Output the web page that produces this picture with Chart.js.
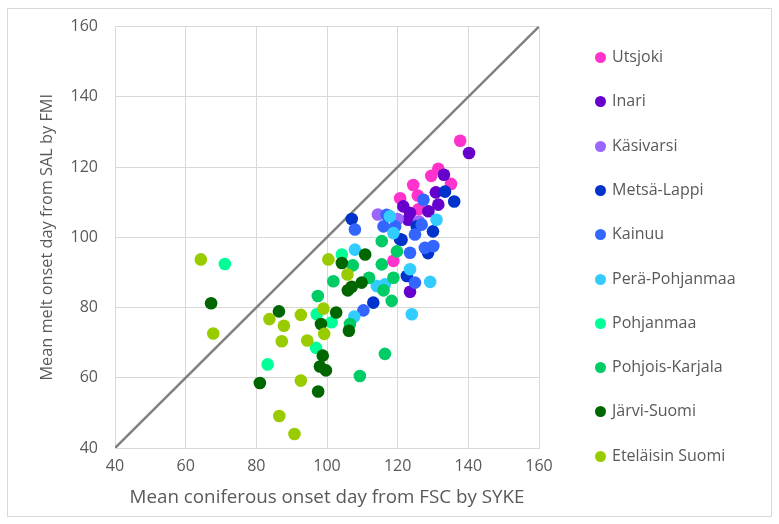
<!DOCTYPE html>
<html>
<head>
<meta charset="utf-8">
<script src="https://cdn.jsdelivr.net/npm/chart.js@4/dist/chart.umd.min.js"></script>
<style>
  body{margin:0;background:#fff;font-family:"Open Sans",sans-serif;}
  #wrap{position:relative;width:779px;height:524px;}
  #frame{position:absolute;left:7px;top:8px;width:763px;height:507px;border:1px solid #d9d9d9;}
  #myChart{position:absolute;left:0;top:0;}
  .leg{position:absolute;left:595px;height:20px;line-height:20px;font-size:16px;color:#595959;white-space:nowrap;}
  .leg span{display:inline-block;width:11px;height:11px;border-radius:50%;margin-right:6px;vertical-align:-1px;}
</style>
</head>
<body>
<div id="wrap">
  <div id="frame"></div>
  <canvas id="myChart" width="779" height="524"></canvas>
</div>
<script>
// series names + colours
var v_names = ["Utsjoki","Inari","Käsivarsi","Metsä-Lappi","Kainuu","Perä-Pohjanmaa","Pohjanmaa","Pohjois-Karjala","Järvi-Suomi","Eteläisin Suomi"];
var v_colors = ["#ff33cc","#6600cc","#9966ff","#0033cc","#3366ff","#33ccff","#00ff99","#00cc66","#006600","#99cc00"];

// [FSC by SYKE, SAL by FMI]
var v_utsjoki = [[137.7,127.5],[131.5,119.5],[129.5,117.5],[135.1,115.2],[124.4,114.9],[120.7,111.1],[125.7,111.9],[125.9,108],[118.8,93.3]];
var v_inari = [[140.2,124],[133.1,117.8],[130.8,112.8],[131.5,109.3],[121.6,108.8],[123.5,106.9],[128.7,107.4],[123,105],[123.5,84.5]];
var v_kasivarsi = [[114.4,106.5],[120,105.2],[126,104.5]];
var v_metsalappi = [[133.4,113],[136,110.2],[107,105.2],[121.1,99.3],[130,101.7],[128.6,95.5],[120.7,99.4],[125.4,103.1],[113.1,81.4],[122.6,89]];
var v_kainuu = [[107.9,102.2],[127.3,110.7],[126.8,103.6],[130.1,97.5],[127.7,97],[123.5,95.6],[116,103.1],[124.9,87.1],[110.3,79.2],[116.9,106.4],[119.3,103.1],[124.9,100.8]];
var v_perapohjanmaa = [[129.2,87.3],[123.5,90.9],[107.9,96.5],[117.8,106],[118.8,101.2],[131,105],[107.7,77.4],[114.1,86.1],[124,78.1],[116.4,86.6]];
var v_pohjanmaa = [[71.1,92.4],[83.2,63.8],[96.9,68.5],[97.1,78.1],[101.3,75.8],[104.2,95.1]];
var v_pohjoiskarjala = [[116.4,66.8],[109.3,60.5],[97.4,83.3],[101.8,87.5],[111.9,88.5],[118.8,88.5],[116,84.9],[118.3,81.9],[115.5,92.3],[107.3,92],[106.5,75.3],[115.5,98.9],[119.8,96]];
var v_jarvisuomi = [[67.2,81.2],[86.4,78.9],[98.3,75.3],[81,58.5],[97.5,56.1],[98.8,66.3],[98,63.2],[99.7,62.1],[106.2,73.4],[102.6,78.6],[105.9,84.9],[107,85.9],[109.8,87.1],[104.2,92.7],[110.8,95.1]];
var v_etelaisin = [[64.3,93.7],[67.8,72.6],[83.7,76.7],[87.8,74.8],[92.6,77.9],[99,79.7],[100.4,93.7],[87.2,70.4],[94.4,70.6],[99.2,72.5],[92.6,59.2],[86.5,49.1],[90.8,44],[105.8,89.4]];

var v_series = [v_utsjoki,v_inari,v_kasivarsi,v_metsalappi,v_kainuu,v_perapohjanmaa,v_pohjanmaa,v_pohjoiskarjala,v_jarvisuomi,v_etelaisin];
var v_diag = [40,160]; // 1:1 line ends
var v_ticks = [40,60,80,100,120,140,160];

var v_font = {family:"'Open Sans', sans-serif", size:16};
var v_datasets = [];
for(var a=0; a<v_series.length; a++){
  var pts = [];
  for(var b=0; b<v_series[a].length; b++){
    pts.push({x:v_series[a][b][0], y:v_series[a][b][1]});
  }
  v_datasets.push({
    type:"scatter", label:v_names[a], data:pts,
    backgroundColor:v_colors[a], borderWidth:0,
    pointRadius:6.3, pointHoverRadius:6.3,
    order: v_series.length-1-a   // later series on top like excel
  });
}
v_datasets.push({
  type:"line", label:"1:1",
  data:[{x:v_diag[0],y:v_diag[0]},{x:v_diag[1],y:v_diag[1]}],
  borderColor:"#808080", borderWidth:2.5, pointRadius:0, order:99
});

function f_axis(p_title, p_isX){
  var ax = {
    type:"linear", min:v_ticks[0], max:v_ticks[v_ticks.length-1],
    ticks:{stepSize:20, color:"#595959", font:v_font, padding:p_isX?9:17},
    grid:{color:"#d9d9d9", drawTicks:false},
    border:{color:"#d9d9d9"},
    title:{display:true, text:p_title, color:"#595959", font:{family:v_font.family,size:p_isX?18.8:16.3},
           padding:p_isX?{top:0,bottom:15}:{top:38,bottom:0}}
  };
  ax.afterFit = function(s){ if(p_isX){ s.height = 76; } else { s.width = 115; } };
  return ax;
}

var ctx = document.getElementById("myChart").getContext("2d");
var myChart = new Chart(ctx,{
  data:{datasets:v_datasets},
  options:{
    responsive:false, animation:false,
    layout:{padding:{top:24,right:240,left:0,bottom:0}},
    plugins:{legend:{display:false}, tooltip:{enabled:false}},
    scales:{
      x:f_axis("Mean coniferous onset day from FSC by SYKE", true),
      y:f_axis("Mean melt onset day from SAL by FMI", false)
    }
  }
});

// legend on the right, html
var v_wrap = document.getElementById("wrap");
for(var a=0; a<v_names.length; a++){
  var d = document.createElement("div");
  d.className = "leg";
  d.style.top = (46 + a*44.3) + "px";
  d.innerHTML = '<span style="background:'+v_colors[a]+'"></span>' + v_names[a];
  v_wrap.appendChild(d);
}
</script>
</body>
</html>
